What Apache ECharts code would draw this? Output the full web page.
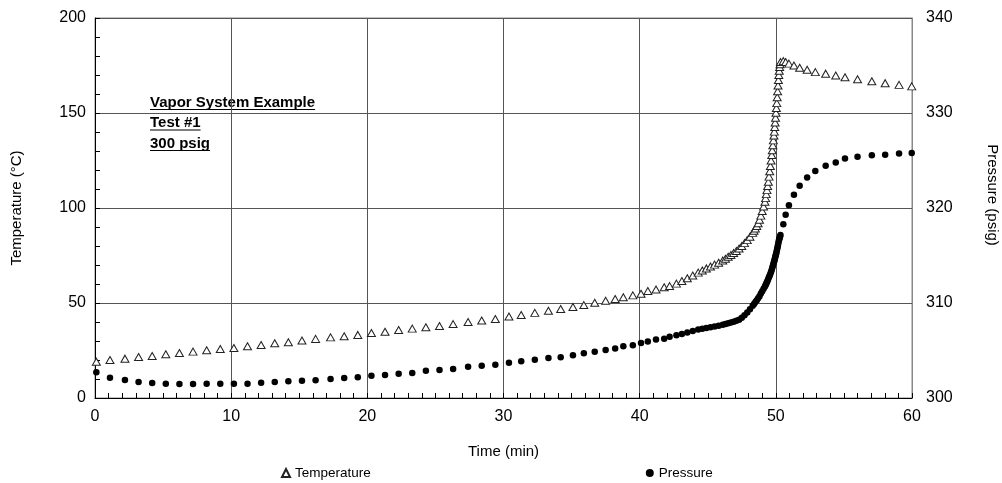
<!DOCTYPE html>
<html>
<head>
<meta charset="utf-8">
<script src="https://cdn.jsdelivr.net/npm/echarts@6/dist/echarts.min.js"></script>
<style>
  html, body { margin: 0; padding: 0; background: #fff; }
  #chart { width: 1002px; height: 483px; }
</style>
</head>
<body>
<div id="chart"></div>
<script>
// time of each reading (min)
var minutes = [
  0.1, 1.1, 2.2, 3.2, 4.2, 5.2, 6.2, 7.2, 8.2, 9.2,
  10.2, 11.2, 12.2, 13.2, 14.2, 15.2, 16.2, 17.3, 18.3, 19.3,
  20.3, 21.3, 22.3, 23.3, 24.3, 25.3, 26.3, 27.4, 28.4, 29.4,
  30.4, 31.3, 32.3, 33.3, 34.2, 35.1, 35.9, 36.7, 37.5, 38.2,
  38.8, 39.5, 40.1, 40.6, 41.2, 41.8, 42.2, 42.7,
  43.1, 43.5, 43.9, 44.3,
  44.6, 44.9, 45.2, 45.5, 45.8,
  46.1, 46.3, 46.5, 46.7, 46.9, 47.1, 47.3, 47.5, 47.7, 47.9, 48.1, 48.3,
  48.4, 48.5, 48.6, 48.7, 48.8, 48.9, 49.0, 49.1, 49.2,
  49.25, 49.3, 49.35, 49.4, 49.45, 49.5, 49.55, 49.6, 49.65, 49.7,
  49.74, 49.78, 49.82, 49.86,
  49.89, 49.92, 49.95, 49.98, 50.01, 50.04, 50.07, 50.10, 50.13, 50.16, 50.19, 50.22, 50.25, 50.28, 50.31, 50.34,
  50.55, 50.72, 50.96, 51.33, 51.75, 52.3, 52.9, 53.66, 54.4, 55.08, 56.0, 57.05, 58.03, 59.05, 59.98
];

// temperature (°C)
var temperature = [
  19.1, 20.0, 20.7, 21.6, 22.1, 23.0, 23.7, 24.4, 25.1, 25.8,
  26.3, 27.2, 27.9, 28.8, 29.3, 30.3, 31.1, 31.9, 32.5, 33.2,
  34.2, 34.9, 35.8, 36.5, 37.2, 37.9, 38.9, 40.0, 40.8, 41.6,
  42.9, 43.7, 44.8, 45.9, 46.8, 47.9, 48.9, 50.1, 51.2, 52.1,
  53.0, 54.0, 54.9, 56.3, 57.1, 58.3, 58.9, 60.2,
  61.6, 63.0, 64.5, 66.0,
  67.1, 68.2, 69.2, 70.2, 71.2,
  72.4, 73.3, 74.3, 75.3, 76.3, 77.4, 78.7, 80.0, 81.5, 83.1, 84.9, 86.9,
  88.0, 89.2, 90.5, 92.0, 93.8, 96.0, 98.4, 100.8, 103.3,
  105.2, 107.3, 109.4, 111.6, 113.8, 116.5, 119.3, 122.1, 125.0, 127.9,
  130.4, 133.0, 135.6, 138.2,
  140.2, 142.6, 145.0, 147.5, 150.1, 152.6, 155.2, 158.3, 161.4, 164.5, 167.4, 170.0, 172.2, 174.2, 175.7, 176.8,
  177.3, 176.8, 176.0, 175.0, 173.8, 172.8, 171.5, 170.7, 169.7, 168.8, 167.8, 166.7, 165.7, 164.8, 164.0
];

// pressure (psig)
var pressure = [
  302.7, 302.14, 301.9, 301.68, 301.58, 301.5, 301.47, 301.47, 301.5, 301.5,
  301.5, 301.5, 301.6, 301.68, 301.76, 301.82, 301.86, 302.0, 302.1, 302.18,
  302.35, 302.42, 302.56, 302.63, 302.87, 302.95, 303.05, 303.3, 303.4, 303.5,
  303.72, 303.88, 304.03, 304.2, 304.28, 304.5, 304.72, 304.88, 305.05, 305.2,
  305.45, 305.55, 305.8, 305.95, 306.15, 306.24, 306.45, 306.6,
  306.75, 306.9, 307.05, 307.2,
  307.3, 307.38, 307.45, 307.52, 307.6,
  307.7, 307.78, 307.86, 307.95, 308.03, 308.12, 308.25, 308.45, 308.7, 309.0, 309.35, 309.7,
  309.9, 310.1, 310.3, 310.5, 310.72, 311.0, 311.25, 311.5, 311.75,
  311.9, 312.05, 312.2, 312.38, 312.55, 312.73, 312.9, 313.08, 313.3, 313.5,
  313.7, 313.9, 314.1, 314.3,
  314.45, 314.6, 314.78, 314.95, 315.12, 315.3, 315.5, 315.7, 315.9, 316.1, 316.35, 316.55, 316.7, 316.85, 317.0, 317.15,
  318.3, 319.3, 320.3, 321.4, 322.35, 323.2, 323.9, 324.45, 324.8, 325.2, 325.4, 325.55, 325.6, 325.75, 325.8
];

var noteLines = ['Vapor System Example', 'Test #1', '300 psig'];

var FONT = '"Liberation Sans", Arial, sans-serif';
var chart = echarts.init(document.getElementById('chart'));

// note box with underlined lines
var noteFont = 'bold 15px ' + FONT;
var ctx = document.createElement('canvas').getContext('2d');
ctx.font = noteFont;
var note = [];
noteLines.forEach(function (s, i) {
  var y = 95 + i * 20.5;
  var w = ctx.measureText(s).width;
  note.push({ type: 'text', left: 150, top: y,
    style: { text: s, font: noteFont, fill: '#000' } });
  note.push({ type: 'line', shape: { x1: 150, y1: y + 14.5, x2: 150 + w, y2: y + 14.5 },
    style: { stroke: '#000', lineWidth: 1.2 } });
});

var option = {
  animation: false,
  backgroundColor: '#fff',
  textStyle: { fontFamily: FONT },
  grid: { left: 95, right: 90, top: 18, bottom: 85, outerBoundsMode: 'none',
    show: true, borderColor: '#888', borderWidth: 1 },
  legend: {
    left: 276, top: 461, itemGap: 275, itemWidth: 8, itemHeight: 8,
    textStyle: { fontSize: 13.5, color: '#000', fontFamily: FONT },
    data: ['Temperature', 'Pressure']
  },
  xAxis: {
    type: 'value', min: 0, max: 60, interval: 10,
    name: 'Time (min)', nameLocation: 'middle', nameGap: 46,
    nameTextStyle: { fontSize: 15, color: '#000' },
    axisLine: { show: true, lineStyle: { color: '#000' } },
    axisTick: { show: true, inside: true, length: 5, lineStyle: { color: '#000' } },
    minorTick: { show: true, splitNumber: 10, length: 5, lineStyle: { color: '#000' } },
    axisLabel: { fontSize: 16, color: '#000', margin: 11 },
    splitLine: { show: true, lineStyle: { color: '#555', width: 1 } }
  },
  yAxis: [{
    type: 'value', min: 0, max: 200, interval: 50,
    name: 'Temperature (°C)', nameLocation: 'middle', nameGap: 71,
    nameTextStyle: { fontSize: 15, color: '#000' },
    axisLine: { show: true, lineStyle: { color: '#000' } },
    axisTick: { show: true, inside: true, length: 5, lineStyle: { color: '#000' } },
    minorTick: { show: true, splitNumber: 5, length: 5, lineStyle: { color: '#000' } },
    axisLabel: { fontSize: 16, color: '#000', margin: 9 },
    splitLine: { show: true, lineStyle: { color: '#555', width: 1 } }
  }, {
    type: 'value', min: 300, max: 340, interval: 10, position: 'right',
    name: 'Pressure (psig)', nameLocation: 'middle', nameGap: 73, nameRotate: -90,
    nameTextStyle: { fontSize: 15, color: '#000', padding: [0, 26, 0, 0] },
    axisLine: { show: true, lineStyle: { color: '#888' } },
    axisTick: { show: false },
    axisLabel: { fontSize: 16, color: '#000', margin: 14 },
    splitLine: { show: false }
  }],
  series: [{
    name: 'Temperature', type: 'scatter', yAxisIndex: 0,
    symbol: 'triangle', symbolSize: [8, 7],
    itemStyle: { color: '#fff', borderColor: '#222', borderWidth: 1, opacity: 1 },
    data: minutes.map(function (t, i) { return [t, temperature[i]]; })
  }, {
    name: 'Pressure', type: 'scatter', yAxisIndex: 1,
    symbol: 'circle', symbolSize: 6.5,
    itemStyle: { color: '#000', opacity: 1 },
    data: minutes.map(function (t, i) { return [t, pressure[i]]; })
  }],
  graphic: note
};
chart.setOption(option);
</script>
</body>
</html>
